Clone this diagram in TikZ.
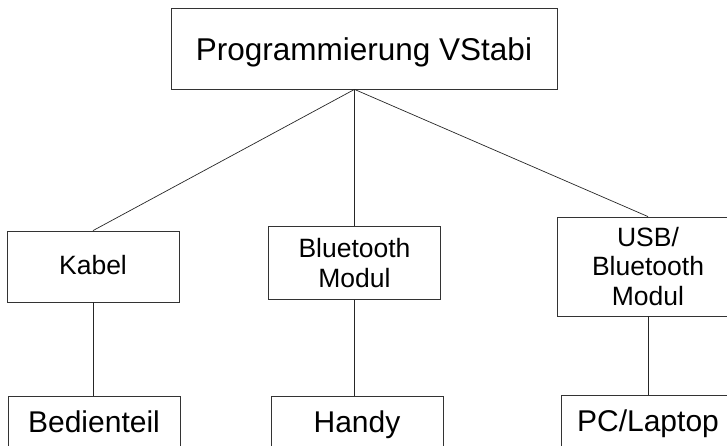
\documentclass[tikz,border=0pt]{standalone}
\usepackage{fontspec}
\setmainfont{Liberation Sans}

% Tamanos de letra que usamos en el dibujo
\newcommand{\letratitulo}{\fontsize{31.5}{36}\selectfont}
\newcommand{\letramedia}{\fontsize{26.5}{29.8}\selectfont}
\newcommand{\letragrande}{\fontsize{30}{34}\selectfont}

\tikzset{
  caja/.style={draw=black!80, line width=0.8pt, rectangle, minimum width=172pt, inner sep=0pt, align=center},
  linea/.style={draw=black!85, line width=0.7pt}
}

\begin{document}
\begin{tikzpicture}[x=1pt,y=-1pt]
% Fijamos el tamano del dibujo, lo que sobresale queda recortado
\useasboundingbox (0,0) rectangle (727,446);

% Caja de arriba
\node[caja, minimum width=386pt, minimum height=81pt, text height=24pt, text depth=0pt, font=\letratitulo] (titulo) at (364,48.5) {Programmierung VStabi};

% Fila del medio: las conexiones
\node[caja, minimum height=71pt, text height=19pt, text depth=4pt, font=\letramedia] (kabel) at (93,266.5) {Kabel};
\node[caja, minimum height=73pt, font=\letramedia] (bluetooth) at (354.5,263) {Bluetooth\\Modul};
\node[caja, minimum width=182pt, minimum height=99pt, font=\letramedia] (usb) at (648,266.5) {USB/\\Bluetooth\\Modul};

% Fila de abajo: los aparatos (la parte de abajo se sale del dibujo)
\node[caja, anchor=north, text height=36.5pt, text depth=40pt, font=\letragrande] (bedienteil) at (94,396) {Bedienteil};
\node[caja, anchor=north, text height=36.5pt, text depth=40pt, font=\letragrande] (handy) at (357,396) {Handy};
\node[caja, anchor=north, minimum width=174pt, text height=36.5pt, text depth=40pt, font=\letragrande] (pc) at (648,395) {PC/Laptop};

% Punto de donde salen las tres lineas
\coordinate (punta) at (titulo.south -| bluetooth.north);
\draw[linea] (punta) -- (kabel.north);
\draw[linea] (punta) -- (bluetooth.north);
\draw[linea] (punta) -- (usb.north);

% Lineas verticales hacia abajo
\draw[linea] (kabel.south) -- (kabel.south |- bedienteil.north);
\draw[linea] (bluetooth.south) -- (bluetooth.south |- handy.north);
\draw[linea] (usb.south) -- (usb.south |- pc.north);
\end{tikzpicture}
\end{document}
